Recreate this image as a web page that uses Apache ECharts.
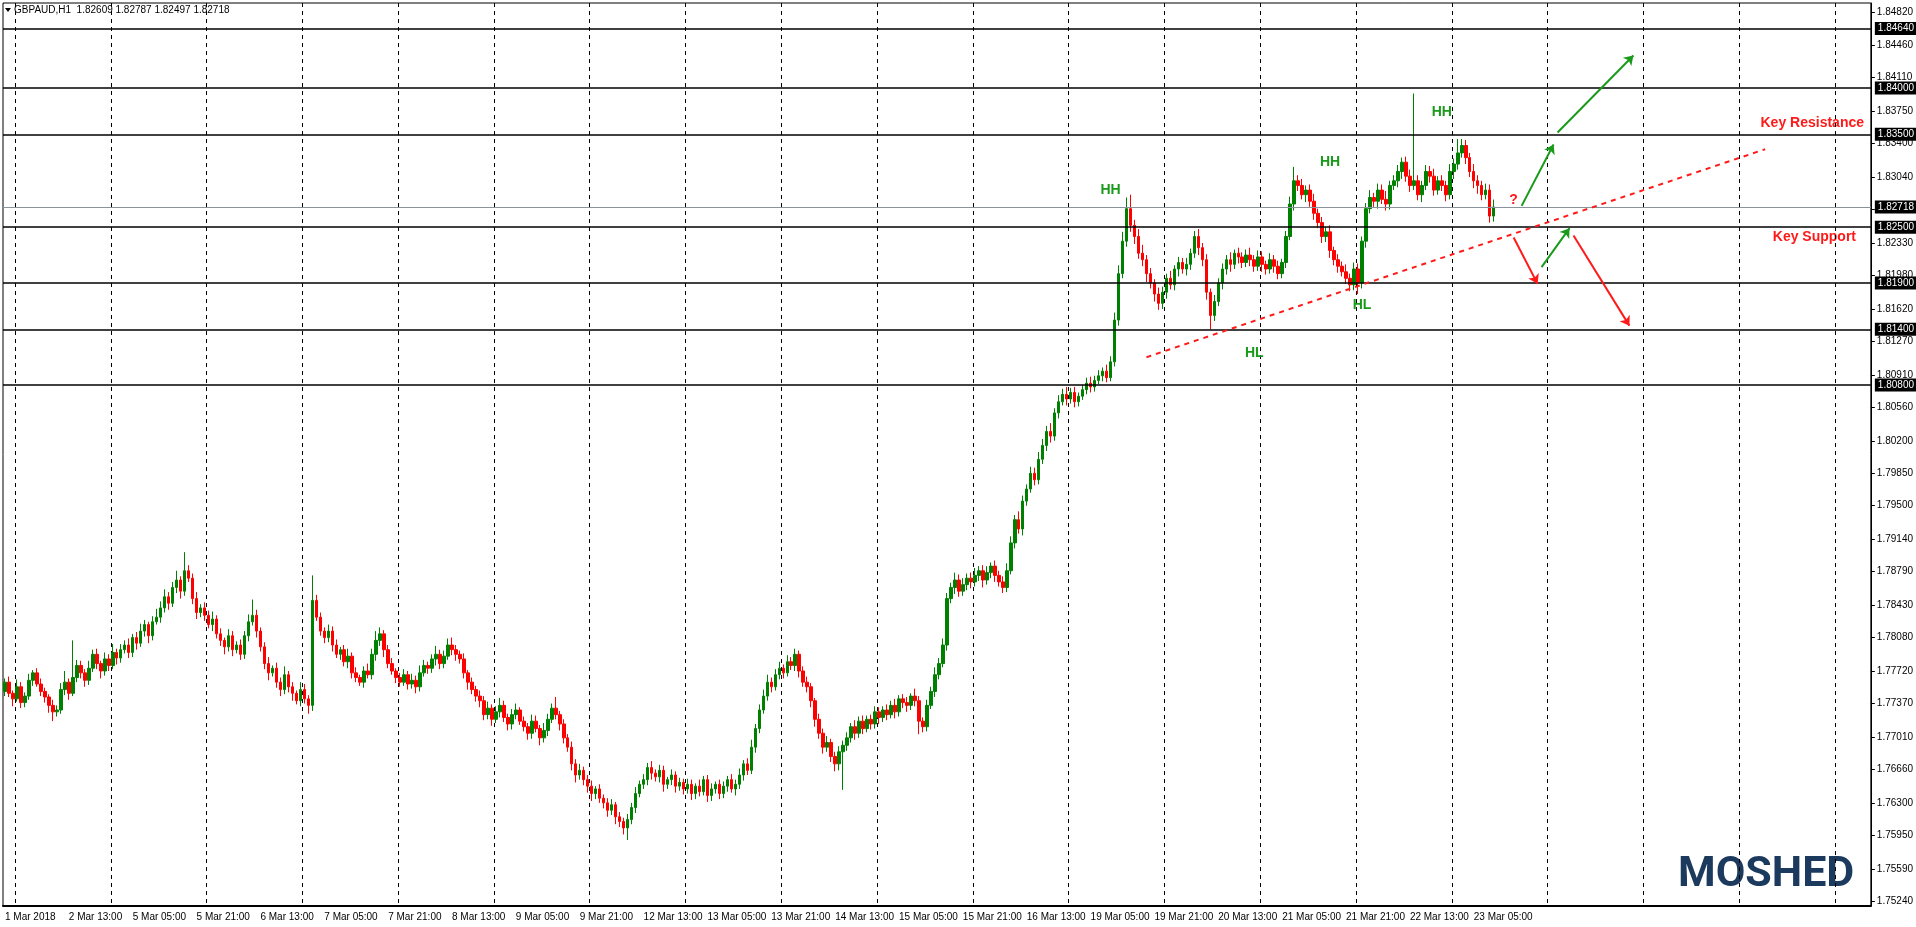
<!DOCTYPE html>
<html>
<head>
<meta charset="utf-8">
<script src="https://cdn.jsdelivr.net/npm/echarts@6/dist/echarts.min.js"></script>
<style>
  html, body { margin: 0; padding: 0; background: #fff; }
  #main { width: 1916px; height: 927px; }
</style>
</head>
<body>
<div id="main"></div>
<script>
// GBPAUD H1 closes, in pips (1.xxxx * 10000)
const closes = [
  17760,17748,17742,17755,17738,17745,17762,17770,17758,17750,
  17744,17735,17728,17730,17752,17760,17748,17765,17778,17770,
  17762,17775,17790,17780,17772,17785,17778,17792,17786,17795,
  17800,17792,17808,17802,17815,17822,17810,17825,17830,17840,
  17852,17845,17862,17870,17858,17880,17872,17850,17835,17840,
  17832,17822,17828,17812,17805,17798,17810,17795,17800,17790,
  17810,17825,17832,17815,17798,17780,17770,17775,17760,17752,
  17768,17755,17748,17740,17752,17742,17735,17848,17830,17815,
  17808,17815,17800,17790,17795,17782,17788,17770,17765,17760,
  17772,17768,17790,17805,17812,17795,17780,17772,17765,17760,
  17768,17758,17762,17755,17770,17778,17775,17785,17790,17780,
  17788,17800,17795,17790,17785,17770,17760,17752,17745,17740,
  17725,17732,17720,17728,17735,17722,17715,17725,17730,17718,
  17712,17705,17718,17710,17700,17708,17720,17732,17725,17715,
  17700,17690,17672,17660,17665,17655,17648,17640,17645,17635,
  17630,17622,17628,17615,17610,17603,17612,17625,17640,17650,
  17655,17668,17662,17658,17665,17650,17655,17660,17648,17652,
  17645,17650,17640,17648,17642,17655,17638,17645,17650,17640,
  17648,17655,17645,17650,17660,17672,17665,17690,17710,17730,
  17745,17760,17755,17768,17775,17770,17782,17778,17790,17772,
  17760,17755,17740,17720,17705,17690,17695,17680,17672,17685,
  17692,17700,17712,17705,17718,17710,17720,17715,17728,17722,
  17730,17725,17735,17728,17742,17738,17735,17745,17740,17718,
  17712,17735,17750,17768,17780,17800,17850,17862,17870,17858,
  17865,17872,17868,17875,17880,17870,17878,17885,17875,17868,
  17862,17880,17910,17935,17925,17955,17968,17985,17978,18000,
  18015,18030,18025,18050,18062,18070,18065,18072,18062,18068,
  18075,18082,18078,18085,18090,18095,18088,18105,18150,18200,
  18235,18270,18252,18240,18222,18215,18200,18190,18178,18168,
  18180,18195,18188,18205,18212,18205,18210,18222,18240,18228,
  18215,18180,18155,18170,18190,18205,18215,18210,18222,18218,
  18212,18220,18215,18208,18218,18210,18205,18215,18208,18200,
  18212,18240,18275,18300,18295,18285,18290,18278,18265,18255,
  18240,18245,18225,18215,18208,18202,18195,18188,18205,18190,
  18235,18270,18282,18278,18290,18280,18275,18295,18300,18310,
  18320,18305,18295,18300,18285,18295,18310,18305,18290,18300,
  18295,18285,18310,18318,18330,18338,18325,18310,18300,18295,
  18285,18290,18262,18271.8
];
const firstOpen = 17750;

// upper / lower wick length in pips
const upWick = [
  4,6,3,8,5,4,7,3,5,6, 4,3,6,5,7,12,4,40,6,5, 4,8,5,6,3,7,5,9,4,6, 5,7,4,6,8,5,3,6,9,7,
  8,5,6,10,4,20,6,5,7,4, 6,5,8,4,6,3,7,5,4,6, 5,8,17,6,4,5,7,3,6,5, 9,4,5,3,8,6,4,27,6,5,
  4,7,5,6,3,5,8,4,6,3, 5,8,6,10,7,4,5,6,3,5, 6,4,7,5,8,6,4,5,9,5, 6,7,8,5,4,6,3,5,4,6,
  5,7,4,6,8,5,4,6,7,3, 5,4,7,6,4,8,6,5,12,4, 5,4,6,5,7,4,5,6,3,5, 4,5,6,3,5,4,6,5,7,4,
  6,5,7,4,6,5,3,6,4,5, 4,6,5,3,7,4,5,6,3,5, 5,4,6,5,7,4,6,8,5,6, 7,8,5,6,7,4,7,5,6,4,
  5,6,4,3,6,5,7,4,5,6, 5,6,4,7,5,6,4,5,6,5, 4,6,5,7,4,5,6,3,8,5, 4,6,5,8,6,7,6,5,8,6,
  7,5,6,8,5,6,7,4,6,5, 6,8,7,5,9,6,5,7,6,8, 7,6,9,5,7,6,8,5,6,4, 5,6,7,5,6,4,7,6,8,9,
  10,12,15,6,8,9,5,6,4,7, 6,5,8,4,6,5,7,5,6,8, 5,6,4,7,5,6,5,8,4,6, 5,6,8,5,7,6,4,7,5,6,
  4,6,8,15,6,7,5,6,8,5, 6,5,7,4,6,5,8,5,7,6, 5,6,8,5,7,6,9,5,6,7, 5,6,7,94,6,5,7,6,8,5,
  6,5,8,6,15,7,6,5,8,6, 5,7,6,8
];
const downWick = [
  5,4,8,3,6,5,4,6,3,5, 6,8,10,5,4,6,7,3,5,6, 7,5,4,6,8,5,6,4,7,5, 4,6,5,7,4,6,8,5,3,6,
  5,7,4,6,8,5,4,6,7,5, 6,4,7,5,6,8,5,7,4,6, 5,6,4,7,5,6,8,4,6,7, 5,6,8,4,6,5,9,6,4,5,
  6,5,7,4,6,5,7,6,5,4, 6,4,5,7,6,8,5,4,6,5, 4,6,5,7,5,4,6,5,7,6, 5,4,6,7,5,6,8,5,6,7,
  6,5,7,4,6,5,7,6,5,4, 5,7,6,4,8,5,6,4,5,7, 6,5,7,8,5,6,7,8,6,5, 6,7,5,8,6,7,13,5,6,4,
  5,6,7,5,6,8,5,6,7,5, 6,5,7,6,5,4,7,6,5,6, 5,6,4,7,5,6,5,4,6,5, 4,5,6,4,5,6,4,5,6,7,
  5,6,7,8,6,7,5,6,8,7, 41,6,5,7,5,6,4,6,5,7, 5,6,4,7,5,6,7,5,6,14, 6,5,4,6,5,4,6,5,7,6,
  5,6,7,5,6,8,5,6,7,5, 6,5,4,6,5,7,5,4,6,5, 5,6,7,5,6,4,7,5,6,5, 4,5,6,5,4,6,5,4,5,6,
  5,6,7,8,6,7,9,6,8,7, 6,7,5,6,8,5,7,6,5,8, 7,8,15,6,5,7,6,8,5,7, 6,5,7,6,5,8,6,5,7,6,
  5,6,4,7,6,5,8,6,7,6, 7,6,8,6,7,5,6,7,6,12, 6,7,5,6,8,5,7,6,5,7, 8,6,7,5,6,8,5,7,6,5,
  6,7,5,8,6,5,7,6,8,9, 6,5,7,6
];

const tickLabels = [
  "1 Mar 2018", "2 Mar 13:00", "5 Mar 05:00", "5 Mar 21:00", "6 Mar 13:00", "7 Mar 05:00",
  "7 Mar 21:00", "8 Mar 13:00", "9 Mar 05:00", "9 Mar 21:00", "12 Mar 13:00", "13 Mar 05:00",
  "13 Mar 21:00", "14 Mar 13:00", "15 Mar 05:00", "15 Mar 21:00", "16 Mar 13:00", "19 Mar 05:00",
  "19 Mar 21:00", "20 Mar 13:00", "21 Mar 05:00", "21 Mar 21:00", "22 Mar 13:00", "23 Mar 05:00"
];
const priceTicks = [
  1.84820, 1.84460, 1.84110, 1.83750, 1.83400, 1.83040, 1.82690, 1.82330, 1.81980, 1.81620,
  1.81270, 1.80910, 1.80560, 1.80200, 1.79850, 1.79500, 1.79140, 1.78790, 1.78430, 1.78080,
  1.77720, 1.77370, 1.77010, 1.76660, 1.76300, 1.75950, 1.75590, 1.75240
];
const levels = [1.8464, 1.8400, 1.8350, 1.8250, 1.8190, 1.8140, 1.8080];
const lastPrice = 1.82718;

const SLOTS = 468;
const cats = [];
for (let i = 0; i < SLOTS; i++) cats.push(String(i));

const candles = [];
let prev = firstOpen;
for (let i = 0; i < closes.length; i++) {
  const o = prev, c = closes[i];
  const hi = Math.max(o, c) + upWick[i];
  const lo = Math.min(o, c) - downWick[i];
  candles.push([o / 10000, c / 10000, lo / 10000, hi / 10000]);
  prev = c;
}

const boxLabel = {
  show: true, position: "end", distance: 4,
  backgroundColor: "#000", color: "#fff", padding: [2, 3, 1, 3],
  fontFamily: "Liberation Sans", fontSize: 10,
  formatter: (p) => Number(p.value).toFixed(5)
};

const levelLines = levels.map((v) => ({
  yAxis: v, lineStyle: { color: "#000", width: 1.5, type: "solid" }, label: boxLabel
}));
levelLines.push({
  yAxis: lastPrice, lineStyle: { color: "#8a929c", width: 1, type: "solid" }, label: boxLabel
});

function seg(x1, p1, x2, p2, color) {
  return [
    { coord: [x1, p1], symbol: "none", lineStyle: { color: color, width: 2, type: "solid" } },
    { coord: [x2, p2], symbol: "arrow", symbolSize: 9 }
  ];
}
const green = "#1a9a1a", red = "#ff1a1a";
const drawn = [
  [{ coord: [286, 1.8110], symbol: "none", lineStyle: { color: red, width: 2, type: [5, 5] } },
   { coord: [441, 1.8334], symbol: "none" }],
  seg(380, 1.8273, 388, 1.8339, green),
  seg(389, 1.8352, 408, 1.8435, green),
  seg(378, 1.8239, 384, 1.8189, red),
  seg(385, 1.8207, 392, 1.8249, green),
  seg(393, 1.8241, 407, 1.8144, red)
];

function note(text, x, p, color) {
  return {
    coord: [x, p], symbol: "circle", symbolSize: 0,
    label: { show: true, formatter: text, color: color, fontWeight: "bold",
      fontFamily: "Liberation Sans", fontSize: 14, position: "inside" }
  };
}

const chart = echarts.init(document.getElementById("main"));
chart.setOption({
  animation: false,
  backgroundColor: "#fff",
  grid: { left: 3, top: 3, right: 43, bottom: 21, show: true, borderColor: "#000", borderWidth: 1 },
  xAxis: {
    type: "category", data: cats, boundaryGap: true,
    axisLine: { lineStyle: { color: "#000", width: 2 } },
    axisTick: { interval: (i) => i % 16 === 0, length: 4, lineStyle: { color: "#000" } },
    axisLabel: {
      interval: (i) => i % 16 === 0, align: "left", margin: 6,
      formatter: (v, i) => tickLabels[i / 16] || "",
      color: "#000", fontFamily: "Liberation Sans", fontSize: 10
    },
    splitLine: { show: true, interval: (i) => (i - 3) % 24 === 0 && i > 0,
      lineStyle: { color: "#000", type: [4, 4], width: 1 } }
  },
  yAxis: {
    type: "value", position: "right", min: 1.75189, max: 1.84915, scale: true,
    axisLine: { show: true, lineStyle: { color: "#000", width: 1 } },
    axisTick: { show: true, customValues: priceTicks, length: 4, lineStyle: { color: "#000" } },
    axisLabel: {
      customValues: priceTicks, formatter: (v) => v.toFixed(5), margin: 6,
      color: "#000", fontFamily: "Liberation Sans", fontSize: 10
    },
    splitLine: { show: false }
  },
  series: [{
    type: "candlestick", data: candles, barWidth: 3,
    itemStyle: { color: "#008000", color0: "#ff0000", borderColor: "#008000", borderColor0: "#ff0000", borderWidth: 1 },
    markLine: { silent: true, symbol: "none", animation: false, precision: 5, data: levelLines.concat(drawn) },
    markPoint: {
      silent: true, animation: false,
      data: [
        note("HH", 277, 1.8290, green),
        note("HH", 332, 1.8320, green),
        note("HH", 360, 1.8374, green),
        note("HL", 313, 1.8114, green),
        note("HL", 340, 1.8166, green),
        note("?", 378, 1.8279, red)
      ]
    }
  }],
  graphic: [
    { type: "polygon", shape: { points: [[5, 8], [11, 8], [8, 12]] }, style: { fill: "#000" } },
    { type: "text", left: 14, top: 5, style: { text: "GBPAUD,H1  1.82609 1.82787 1.82497 1.82718",
      fill: "#000", font: "10px 'Liberation Sans'" } },
    { type: "text", right: 52, top: 116, style: { text: "Key Resistance", fill: red,
      font: "bold 14px 'Liberation Sans'" } },
    { type: "text", right: 60, top: 230, style: { text: "Key Support", fill: red,
      font: "bold 14px 'Liberation Sans'" } },
    { type: "text", left: 1678, top: 854, style: { text: "MOSHED", fill: "#1c3a5e",
      font: "bold 43px Roboto" } }
  ]
});
</script>
</body>
</html>
